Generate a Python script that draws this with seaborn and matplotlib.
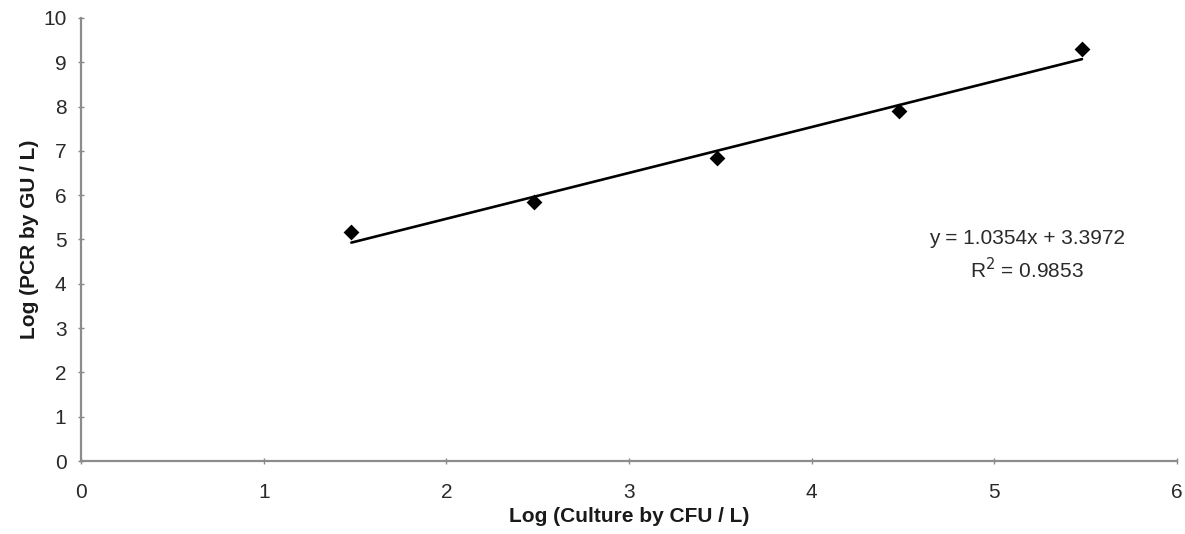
import matplotlib
matplotlib.use("Agg")
import matplotlib.pyplot as plt
import seaborn as sns
import numpy as np
import pandas as pd

log_cfu = [1.48, 2.48, 3.48, 4.48, 5.48]
log_gu = [5.17, 5.84, 6.84, 7.90, 9.29]
slope = 1.0354
intercept = 3.3972
r_squared = 0.9853
x_ticks = [0, 1, 2, 3, 4, 5, 6]
y_ticks = [0, 1, 2, 3, 4, 5, 6, 7, 8, 9, 10]

sns.set_theme(style="white")
plt.rcParams['font.family'] = ['Liberation Sans', 'DejaVu Sans']

df = pd.DataFrame({"x": log_cfu, "y": log_gu})
fit = pd.DataFrame({"x": [log_cfu[0], log_cfu[-1]]})
fit["y"] = slope * fit["x"] + intercept

fig = plt.figure(figsize=(11.85, 5.34), dpi=100)
ax = fig.add_axes([0.0684, 0.1367, 0.9248, 0.8296])

sns.lineplot(data=fit, x="x", y="y", ax=ax, color="black", linewidth=1.9)
sns.scatterplot(data=df, x="x", y="y", ax=ax, marker="D", s=65, color="black",
                edgecolor="black", linewidth=0, zorder=5)

ax.set_xlim(0, 6)
ax.set_ylim(0, 10)
ax.set_xticks(x_ticks)
ax.set_yticks(y_ticks)
ax.tick_params(axis="both", bottom=True, left=True, labelsize=15,
               labelcolor="#2a2a2a", length=5, width=1.0, direction="inout",
               color="#888888")
ax.tick_params(axis="y", pad=8)
ax.tick_params(axis="x", pad=13.5)
for s in ["top", "right"]:
    ax.spines[s].set_visible(False)
for s in ["left", "bottom"]:
    ax.spines[s].set_color("#8c8c8c")
    ax.spines[s].set_linewidth(1.6)

ax.set_xlabel("Log (Culture by CFU / L)", fontsize=15, fontweight="bold",
              color="#1a1a1a", labelpad=3.3)
ax.set_ylabel("Log (PCR by GU / L)", fontsize=15, fontweight="bold",
              color="#1a1a1a", labelpad=3)

ax.text(5.18, 5.03, f"y = {slope:.4f}x + {intercept:.4f}", fontsize=15,
        ha="center", va="center", color="#2a2a2a")
ax.text(5.18, 4.33, f"R$^2$ = {r_squared:.4f}", fontsize=15,
        ha="center", va="center", color="#2a2a2a")

fig.savefig("out.png", dpi=100)
